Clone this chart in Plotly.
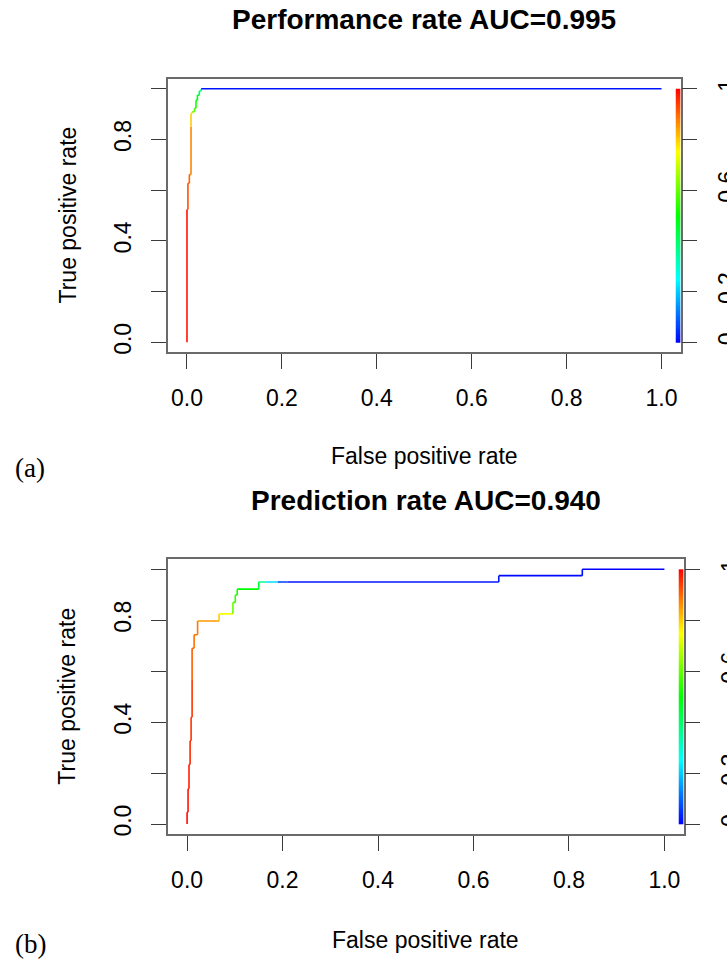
import colorsys
import numpy as np
import plotly.graph_objects as go

# ---------------- data ----------------
# (a) Performance rate ROC curve: vertices and cutoff (colour) at each vertex
fpr_a = [0.0, 0.0, 0.002, 0.002, 0.005, 0.005, 0.0085, 0.0085, 0.0085,
         0.011, 0.011, 0.016, 0.016, 0.019, 0.019, 0.022, 0.022, 0.026, 0.026,
         0.030, 0.030, 1.0]
tpr_a = [0.0, 0.524, 0.524, 0.627, 0.627, 0.662, 0.662, 0.85, 0.903,
         0.903, 0.909, 0.909, 0.923, 0.923, 0.955, 0.955, 0.975, 0.975, 0.991,
         0.991, 1.0, 1.0]
cut_a = [1.0, 0.98, 0.93, 0.92, 0.91, 0.90, 0.89, 0.87, 0.80,
         0.72, 0.68, 0.60, 0.58, 0.55, 0.52, 0.50, 0.48, 0.45, 0.42,
         0.38, 0.35, 0.02]

# (b) Prediction rate ROC curve
fpr_b = [0.0, 0.0, 0.002, 0.002, 0.004, 0.004, 0.0063, 0.0063, 0.0084, 0.0084,
         0.0105, 0.0105, 0.0105, 0.0147, 0.0147, 0.022, 0.022, 0.067, 0.067,
         0.096, 0.096, 0.101, 0.101, 0.105, 0.105, 0.150, 0.150, 0.165, 0.19,
         0.21, 0.653, 0.653, 0.828, 0.828, 1.0]
tpr_b = [0.0, 0.046, 0.046, 0.138, 0.138, 0.234, 0.234, 0.327, 0.327, 0.419,
         0.419, 0.565, 0.69, 0.69, 0.743, 0.743, 0.797, 0.797, 0.825,
         0.825, 0.87, 0.87, 0.899, 0.899, 0.922, 0.922, 0.950, 0.950, 0.950,
         0.950, 0.950, 0.975, 0.975, 1.0, 1.0]
cut_b = [1.0, 0.99, 0.99, 0.98, 0.98, 0.97, 0.97, 0.96, 0.96, 0.95,
         0.95, 0.95, 0.91, 0.90, 0.89, 0.88, 0.88, 0.85, 0.80,
         0.74, 0.60, 0.57, 0.55, 0.53, 0.52, 0.50, 0.45, 0.36, 0.22,
         0.06, 0.02, 0.02, 0.01, 0.01, 0.0]

titles = ["Performance rate AUC=0.995", "Prediction rate AUC=0.940"]
panel_tags = ["(a)", "(b)"]
x_title = "False positive rate"
y_title = "True positive rate"

axis_ticks = [0.0, 0.2, 0.4, 0.6, 0.8, 1.0]
x_ticklabels = ["0.0", "0.2", "0.4", "0.6", "0.8", "1.0"]
y_ticklabels = ["0.0", "", "0.4", "", "0.8", ""]
cb_ticklabels = ["0", "0.2", "", "0.6", "", "1"]
cb_levels = np.linspace(0.0, 1.0, 201)


# ---------------- helpers ----------------
def rainbow(c):
    h = (1.0 - c) * 2.0 / 3.0
    r, g, b = colorsys.hsv_to_rgb(h, 1.0, 1.0)
    return "rgb(%d,%d,%d)" % (round(r * 255), round(g * 255), round(b * 255))


colorscale = [[v, rainbow(v)] for v in np.linspace(0, 1, 25)]

W, H = 727, 959
FONT = "Liberation Sans, Arial, sans-serif"
BOX = "#6a6a6a"
TICK = "#3a3a3a"


def py(px):
    return 1 - px / H


# panel geometry (pixels): x-box left/right, y-box top/bottom
panels = [
    dict(xl=168.0, xr=680.5, yt=78.6, yb=352.4, title_y=20, xt_y=456, tag_y=468),
    dict(xl=168.0, xr=683.5, yt=559.1, yb=834.2, title_y=500, xt_y=940, tag_y=944),
]

fig = go.Figure()
curves = [(fpr_a, tpr_a, cut_a), (fpr_b, tpr_b, cut_b)]

for k, p in enumerate(panels):
    xa = "x" if k == 0 else "x2"
    ya = "y" if k == 0 else "y2"
    yr = "y3" if k == 0 else "y4"
    fx, ty, cu = curves[k]

    # colour key inside the plot box
    z = [[(cb_levels[i] + cb_levels[i + 1]) / 2] for i in range(len(cb_levels) - 1)]
    fig.add_trace(go.Heatmap(
        x=[1.03, 1.04], y=cb_levels, z=z, zmin=0, zmax=1,
        colorscale=colorscale, showscale=False, hoverinfo="skip",
        xaxis=xa, yaxis=ya))

    # coloured ROC curve, one segment per cutoff
    for i in range(len(fx) - 1):
        fig.add_trace(go.Scatter(
            x=[fx[i], fx[i + 1]], y=[ty[i], ty[i + 1]], mode="lines",
            line=dict(color=rainbow(cu[i + 1]), width=1.6),
            showlegend=False, hoverinfo="skip", xaxis=xa, yaxis=ya))

    # right-hand axis of colour key (invisible dummy trace to activate)
    fig.add_trace(go.Scatter(x=[None], y=[None], xaxis=xa, yaxis=yr,
                             showlegend=False, hoverinfo="skip"))

    dom_x = [p["xl"] / W, p["xr"] / W]
    dom_y = [py(p["yb"]), py(p["yt"])]
    sfx = "" if k == 0 else "2"
    fig.layout["xaxis" + sfx] = dict(
        domain=dom_x, anchor=ya, range=[-0.04, 1.04], showgrid=False, zeroline=False,
        automargin=False,
        showline=True, mirror=True, linecolor=BOX, linewidth=2,
        ticks="outside", ticklen=15, tickwidth=1.3, tickcolor=TICK,
        tickvals=axis_ticks, ticktext=x_ticklabels, ticklabelstandoff=9,
        tickfont=dict(family=FONT, size=23, color="black"))
    fig.layout["yaxis" + sfx] = dict(
        domain=dom_y, anchor=xa, range=[-0.04, 1.04], showgrid=False, zeroline=False,
        automargin=False,
        showline=True, mirror=True, linecolor=BOX, linewidth=2,
        ticks="outside", ticklen=15, tickwidth=1.3, tickcolor=TICK,
        tickvals=axis_ticks, ticktext=y_ticklabels, tickangle=-90, ticklabelstandoff=11,
        tickfont=dict(family=FONT, size=23, color="black"))
    fig.layout["yaxis" + ("3" if k == 0 else "4")] = dict(
        overlaying=ya, anchor=xa, side="right", range=[-0.04, 1.04],
        showgrid=False, zeroline=False, showline=False, automargin=False,
        ticks="outside", ticklen=15, tickwidth=1.3, tickcolor=TICK,
        tickvals=axis_ticks, ticktext=cb_ticklabels, tickangle=-90, ticklabelstandoff=11,
        tickfont=dict(family=FONT, size=23, color="black"))

    cx = (p["xl"] + p["xr"]) / 2
    fig.add_annotation(text="<b>%s</b>" % titles[k], x=cx / W, y=py(p["title_y"]),
                       xref="paper", yref="paper", showarrow=False,
                       xanchor="center", yanchor="middle",
                       font=dict(family=FONT, size=28, color="black"))
    fig.add_annotation(text=x_title, x=cx / W, y=py(p["xt_y"]),
                       xref="paper", yref="paper", showarrow=False,
                       xanchor="center", yanchor="middle",
                       font=dict(family=FONT, size=23, color="black"))
    fig.add_annotation(text=y_title, x=67 / W, y=py((p["yt"] + p["yb"]) / 2),
                       xref="paper", yref="paper", showarrow=False, textangle=-90,
                       xanchor="center", yanchor="middle",
                       font=dict(family=FONT, size=23, color="black"))
    fig.add_annotation(text=panel_tags[k], x=30 / W, y=py(p["tag_y"]),
                       xref="paper", yref="paper", showarrow=False,
                       xanchor="center", yanchor="middle",
                       font=dict(family="Liberation Serif, serif", size=27, color="black"))

fig.update_layout(width=W, height=H, autosize=False,
                  margin=dict(l=0, r=0, t=0, b=0, pad=0),
                  paper_bgcolor="white", plot_bgcolor="white", showlegend=False)

fig.write_html("out.html", config={"displayModeBar": False},
               post_script="document.body.style.margin='0';document.body.style.overflow='hidden';")
